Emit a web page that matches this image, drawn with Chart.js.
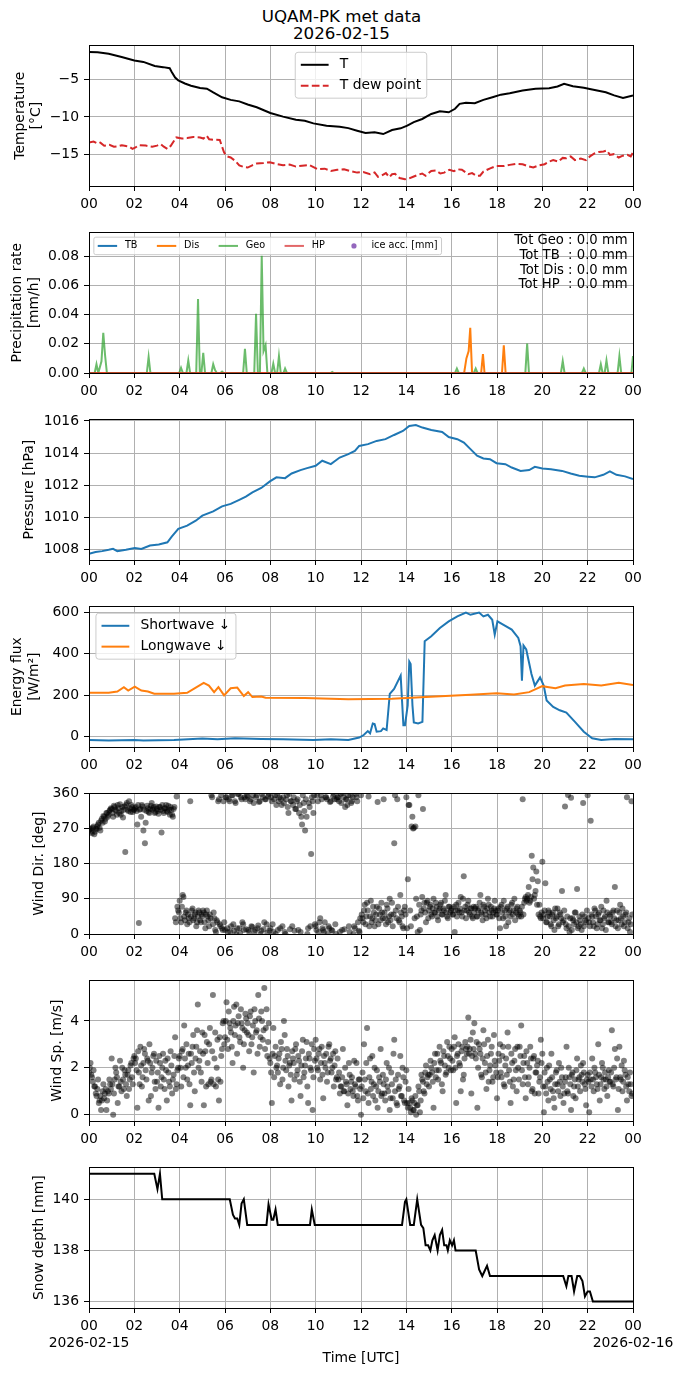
<!DOCTYPE html>
<html>
<head>
<meta charset="utf-8">
<script src="https://cdn.jsdelivr.net/npm/chart.js@4.4.1/dist/chart.umd.min.js"></script>
<style>
  body { margin: 0; background: #fff; width: 683px; height: 1377px; position: relative; overflow: hidden; }
  canvas { position: absolute; left: 0; }
  #title { position: absolute; left: 0; top: 8px; width: 683px; text-align: center;
           font: 16.7px "DejaVu Sans", sans-serif; line-height: 17px; color: #000; }
</style>
</head>
<body>
<div id="title">UQAM-PK met data<br>2026-02-15</div>
<canvas id="c0"></canvas>
<canvas id="c1"></canvas>
<canvas id="c2"></canvas>
<canvas id="c3"></canvas>
<canvas id="c4"></canvas>
<canvas id="c5"></canvas>
<canvas id="c6"></canvas>
<script>
// ---- data (hours UTC, value) ----
const hourTicks = [0, 2, 4, 6, 8, 10, 12, 14, 16, 18, 20, 22, 24];

const airTemp = [[0,-1.26],[0.38,-1.3],[0.87,-1.5],[1.44,-1.94],[2.0,-2.4],[2.4,-2.6],[2.9,-3.15],[3.27,-3.3],[3.56,-3.45],[3.65,-3.95],[3.8,-4.7],[3.94,-5.1],[4.23,-5.5],[4.5,-5.8],[4.9,-6.1],[5.2,-6.2],[5.48,-6.7],[5.87,-7.35],[6.25,-7.7],[6.63,-7.9],[7.0,-8.33],[7.4,-8.7],[8.0,-9.46],[8.56,-9.95],[9.13,-10.36],[9.52,-10.5],[9.9,-10.86],[10.48,-11.17],[11.06,-11.3],[11.44,-11.5],[11.83,-11.85],[12.2,-12.16],[12.6,-12.07],[12.98,-12.3],[13.37,-11.76],[13.75,-11.53],[14.04,-11.17],[14.33,-10.7],[14.7,-10.27],[15.1,-9.6],[15.48,-9.23],[15.87,-9.37],[16.15,-8.9],[16.35,-8.24],[16.63,-8.1],[17.02,-8.15],[17.4,-7.7],[17.8,-7.35],[18.17,-7.0],[18.56,-6.8],[19.13,-6.44],[19.7,-6.22],[20.3,-6.13],[20.67,-5.9],[20.96,-5.54],[21.35,-5.86],[21.83,-6.08],[22.2,-6.3],[22.8,-6.67],[23.17,-7.1],[23.56,-7.43],[24,-7.1]];

const dewPoint = [[0,-13.42],[0.2,-13.3],[0.38,-13.56],[0.5,-13.45],[0.67,-13.87],[0.9,-13.75],[1.1,-14.0],[1.25,-13.96],[1.45,-13.8],[1.63,-13.9],[1.8,-14.05],[1.92,-14.3],[2.05,-14.1],[2.21,-13.78],[2.5,-13.85],[2.79,-14.0],[3.0,-13.85],[3.17,-13.65],[3.3,-14.0],[3.46,-14.3],[3.6,-13.9],[3.85,-12.75],[4.1,-12.9],[4.33,-12.84],[4.6,-12.7],[4.9,-12.75],[5.05,-12.9],[5.19,-12.5],[5.3,-13.0],[5.48,-13.06],[5.77,-13.1],[5.96,-14.77],[6.1,-15.3],[6.25,-15.45],[6.45,-15.9],[6.63,-16.5],[6.85,-16.75],[7.0,-16.8],[7.2,-16.5],[7.4,-16.26],[7.7,-16.2],[7.98,-16.08],[8.3,-16.35],[8.56,-16.5],[8.85,-16.4],[9.13,-16.67],[9.4,-16.55],[9.71,-16.44],[10.1,-17.03],[10.4,-16.95],[10.67,-17.25],[10.95,-17.1],[11.25,-17.03],[11.55,-17.3],[11.83,-17.48],[12.1,-17.4],[12.4,-17.7],[12.6,-17.45],[12.75,-18.05],[12.88,-17.93],[13.1,-17.55],[13.25,-18.1],[13.37,-17.7],[13.5,-17.65],[13.7,-18.2],[13.94,-18.38],[14.1,-18.3],[14.33,-18.0],[14.5,-17.8],[14.7,-17.6],[14.85,-17.9],[15.1,-17.25],[15.3,-17.2],[15.5,-17.6],[15.67,-17.48],[15.9,-17.1],[16.1,-17.3],[16.25,-17.03],[16.45,-17.1],[16.73,-17.7],[16.9,-17.55],[17.1,-17.93],[17.25,-17.9],[17.4,-17.34],[17.7,-16.9],[17.98,-16.58],[18.3,-16.6],[18.56,-16.44],[18.85,-16.3],[19.13,-16.35],[19.35,-16.6],[19.6,-16.8],[19.85,-16.5],[20.1,-16.35],[20.3,-16.0],[20.48,-15.8],[20.7,-16.0],[20.9,-15.5],[21.06,-15.54],[21.25,-15.3],[21.44,-15.8],[21.7,-15.6],[21.92,-15.8],[22.1,-15.3],[22.3,-14.9],[22.5,-14.7],[22.7,-14.64],[22.85,-14.5],[22.98,-15.1],[23.15,-15.0],[23.37,-15.45],[23.55,-15.2],[23.75,-15.1],[23.9,-15.3],[24,-14.77]];

const precipTB = [[0,0],[24,0]];
const precipHP = [[0,0],[24,0]];
const precipDis = [[0,0],[16.55,0],[16.65,0.01],[16.75,0.015],[16.82,0.031],[16.9,0],[17.3,0],[17.38,0.013],[17.45,0],[18.22,0],[18.3,0.019],[18.38,0],[24,0]];
const precipGeo = [[0,0],[0.25,0],[0.33,0.006],[0.41,0],[0.55,0.008],[0.63,0.0275],[0.71,0.012],[0.79,0],[2.55,0],[2.63,0.011],[2.71,0],[3.98,0],[4.06,0.0036],[4.14,0],[4.3,0],[4.38,0.0086],[4.46,0],[4.73,0],[4.81,0.0507],[4.89,0],[4.96,0],[5.04,0.0139],[5.12,0],[5.4,0],[5.48,0.006],[5.56,0.002],[5.64,0],[5.8,0],[5.87,0.001],[5.94,0],[6.8,0],[6.88,0.0166],[6.96,0],[7.29,0],[7.37,0.0407],[7.45,0],[7.54,0],[7.62,0.0805],[7.7,0.015],[7.79,0.019],[7.87,0],[8.05,0],[8.13,0.0064],[8.21,0],[8.3,0],[8.38,0.0116],[8.46,0],[8.58,0],[8.65,0.003],[8.73,0],[10.66,0],[10.73,0.0007],[10.8,0],[16.15,0],[16.23,0.003],[16.31,0],[16.98,0],[17.06,0.003],[17.14,0],[19.25,0],[19.33,0.0202],[19.41,0],[20.82,0],[20.9,0.0082],[20.98,0],[21.75,0],[21.83,0.003],[21.91,0],[22.5,0],[22.58,0.006],[22.66,0],[22.75,0],[22.83,0.0086],[22.91,0],[23.32,0],[23.4,0.0116],[23.48,0],[23.93,0],[24,0.0116]];
const iceAcc = [];
const precipTotals = ['Tot Geo : 0.0 mm', 'Tot TB  : 0.0 mm', 'Tot Dis : 0.0 mm', 'Tot HP  : 0.0 mm'];

const pressure = [[0,1007.75],[0.29,1007.86],[0.58,1007.92],[0.87,1008.0],[1.06,1008.06],[1.25,1007.92],[1.63,1008.0],[2.02,1008.12],[2.31,1008.06],[2.69,1008.27],[3.08,1008.33],[3.46,1008.47],[3.65,1008.82],[3.94,1009.3],[4.33,1009.5],[4.71,1009.81],[5.0,1010.12],[5.48,1010.39],[5.87,1010.7],[6.25,1010.85],[6.63,1011.1],[6.92,1011.3],[7.21,1011.57],[7.6,1011.84],[7.98,1012.25],[8.27,1012.5],[8.65,1012.45],[8.94,1012.74],[9.33,1012.95],[9.62,1013.07],[10.0,1013.22],[10.29,1013.53],[10.67,1013.32],[11.06,1013.73],[11.44,1013.94],[11.73,1014.14],[11.92,1014.45],[12.31,1014.56],[12.69,1014.76],[13.08,1014.87],[13.46,1015.13],[13.85,1015.38],[14.13,1015.69],[14.42,1015.75],[14.71,1015.59],[15.1,1015.44],[15.58,1015.32],[15.87,1015.0],[16.25,1014.87],[16.54,1014.66],[16.83,1014.25],[17.12,1013.84],[17.4,1013.67],[17.69,1013.63],[17.98,1013.38],[18.37,1013.32],[18.65,1013.11],[19.04,1012.9],[19.42,1012.95],[19.67,1013.15],[20.0,1013.05],[20.38,1013.0],[20.87,1012.9],[21.25,1012.74],[21.63,1012.6],[22.02,1012.54],[22.31,1012.5],[22.69,1012.66],[22.98,1012.87],[23.27,1012.66],[23.65,1012.56],[24,1012.39]];

const shortwave = [[0,-17.5],[0.87,-20.7],[2.0,-17.5],[2.4,-20.7],[3.75,-17.5],[5.0,-11],[5.67,-14],[6.44,-9.6],[7.6,-12.8],[8.56,-14],[9.9,-17.5],[10.67,-14],[11.44,-17.5],[11.92,-6],[12.12,6],[12.3,25],[12.4,14],[12.52,62],[12.6,59],[12.69,22],[12.88,25],[12.98,38],[13.13,30],[13.27,206],[13.46,230],[13.75,294],[13.87,54],[13.94,54],[14.06,150],[14.13,362],[14.19,350],[14.27,150],[14.33,67],[14.52,62],[14.71,70],[14.81,461],[15.1,485],[15.48,525],[15.87,557],[16.25,581],[16.63,600],[16.83,589],[17.21,600],[17.4,581],[17.6,589],[17.79,565],[17.9,493],[18.02,557],[18.27,541],[18.65,517],[18.94,477],[19.04,437],[19.1,270],[19.17,440],[19.29,421],[19.52,302],[19.67,246],[19.81,270],[19.9,286],[20.06,246],[20.19,174],[20.48,142],[20.77,126],[21.06,115],[21.44,70],[21.83,22],[22.2,-9.6],[22.6,-17.5],[23.17,-12.8],[24,-14]];

const longwave = [[0,211],[0.87,211],[1.25,217],[1.54,238],[1.73,222],[2.02,241],[2.31,222],[2.6,217],[2.88,206],[3.75,206],[4.33,211],[4.62,230],[5.06,259],[5.29,246],[5.52,214],[5.71,238],[5.96,198],[6.25,233],[6.54,236],[6.83,195],[7.02,214],[7.21,190],[7.6,193],[7.79,187],[9.52,185],[11.44,180],[13.37,182],[15.29,193],[16.83,201],[17.98,209],[18.75,203],[19.42,214],[20.0,243],[20.29,238],[20.58,233],[21.0,246],[21.83,254],[22.6,246],[23.37,260],[24,249]];

// wind samples every 4 minutes, one row per hour; the B rows sit 2 minutes later
const windStepMin = 4;
const windDir = [
  265,270,258,275,262,268,280,272,290,285,300,295,310,305,318,
  320,300,325,315,330,310,305,325,318,210,335,315,322,330,312,
  318,325,280,28,320,330,265,232,315,322,310,328,318,325,312,
  320,308,325,260,315,322,330,312,318,325,305,320,40,352,60,
  85,30,100,45,55,25,40,340,60,35,50,20,45,55,30,
  45,55,15,60,35,50,355,25,40,5,30,345,20,15,340,
  10,350,5,340,20,355,8,335,15,358,2,345,25,350,12,
  352,5,345,18,335,10,355,22,340,8,350,30,345,3,358,
  15,340,5,355,330,10,350,345,20,335,0,355,310,12,340,
  330,8,320,345,310,5,280,335,265,300,15,325,205,340,355,
  20,355,5,40,345,10,30,350,0,15,340,8,358,25,345,
  350,5,335,360,12,345,330,20,355,340,0,15,350,30,5,
  355,40,60,25,80,352,45,30,70,20,50,338,65,35,55,
  345,40,75,30,90,50,20,232,60,345,35,100,45,15,70,
  350,140,330,20,300,272,275,45,355,10,60,320,80,30,85,
  60,75,45,90,55,70,35,65,80,50,60,100,45,70,55,
  65,50,5,75,60,55,95,45,148,70,60,85,50,65,40,
  55,70,45,65,100,50,75,60,40,90,55,70,45,65,60,
  50,65,15,75,40,60,20,70,55,45,80,60,35,65,50,
  60,45,345,80,95,90,120,85,200,170,100,160,135,75,40,
  185,50,130,30,60,45,20,55,10,40,65,25,50,110,35,
  326,15,356,5,349,40,25,55,115,20,35,10,335,45,30,
  355,30,290,45,20,60,15,50,35,70,25,40,10,55,30,
  45,25,60,120,35,15,55,40,65,20,50,350,30,5,340
];
const windDirB = [
  268,262,272,255,270,276,285,265,295,302,288,310,300,315,322,
  310,328,318,305,322,332,315,298,326,330,318,340,312,325,318,
  322,315,330,318,300,326,318,285,328,312,320,335,322,310,326,
  315,325,318,330,310,322,315,328,305,318,300,325,30,70,55,
  40,70,95,35,60,50,30,45,65,40,55,30,60,35,50,
  60,30,50,45,20,40,350,55,10,35,340,25,355,10,30,
  350,15,345,5,355,25,340,0,358,15,350,30,10,345,355,
  10,340,20,355,5,350,15,338,0,358,12,345,25,352,8,
  350,25,345,0,355,340,15,330,350,5,345,325,358,340,20,
  350,320,340,10,330,300,355,315,345,0,335,20,350,310,25,
  10,340,30,355,15,5,350,345,20,338,10,352,345,0,350,
  340,358,10,350,325,345,355,5,335,350,20,358,340,8,40,
  50,30,75,45,60,20,85,40,55,35,70,25,50,80,40,
  55,25,65,45,35,80,50,355,40,70,30,55,20,60,50,
  15,330,60,275,270,40,90,5,75,50,95,65,55,80,40,
  70,50,65,55,80,45,60,75,50,65,85,55,40,70,60,
  50,70,60,45,80,65,55,90,60,40,75,55,65,45,70,
  65,45,60,80,55,35,70,50,65,75,45,60,55,85,50,
  60,40,70,55,85,45,65,30,60,75,50,90,55,70,45,
  55,70,50,90,85,100,80,95,140,90,110,75,50,45,55,
  40,60,30,45,55,25,50,35,65,45,20,55,40,30,60,
  25,45,20,40,10,35,55,30,15,45,25,50,20,35,60,
  40,20,50,30,65,45,25,55,35,15,60,45,85,30,50,
  30,55,40,20,60,35,75,25,45,30,55,15,40,25,50
];
const windSpeed = [
  1.8,2.2,1.6,1.9,1.2,0.8,1.5,0.6,0.2,1.0,0.7,1.1,0.6,0.9,1.3,
  2.4,0.0,1.5,1.8,0.5,1.2,1.4,2.0,1.1,1.7,0.8,1.9,1.5,2.2,1.3,
  2.5,2.4,0.3,1.8,2.9,1.2,2.2,2.6,1.5,2.3,3.0,0.8,2.0,2.6,1.1,
  1.4,0.3,2.2,1.6,2.6,1.1,1.9,2.4,1.4,2.7,0.9,1.7,3.3,1.3,2.0,
  2.5,1.2,2.8,3.8,2.0,1.5,2.6,0.4,2.2,3.4,1.0,2.9,4.7,2.3,1.8,
  3.5,0.4,2.7,3.1,1.3,3.7,1.5,5.1,2.4,1.2,3.2,0.6,1.4,2.8,4.0,
  3.3,4.8,2.8,3.9,3.5,2.2,4.6,3.8,2.6,4.2,3.1,3.9,2.0,3.6,4.1,
  3.9,2.7,4.4,3.3,1.8,4.0,3.6,5.1,2.9,4.4,3.2,5.4,3.7,2.5,3.9,
  2.2,0.5,3.7,2.5,2.0,1.8,2.6,3.1,1.5,4.0,2.3,2.8,1.2,2.2,0.6,
  2.4,1.5,3.0,1.9,2.3,0.8,2.7,1.6,2.1,3.1,0.5,2.4,1.9,0.2,2.8,
  3.2,2.0,2.6,1.5,2.9,0.7,2.2,2.6,1.8,3.0,2.4,2.0,1.2,2.7,1.6,
  1.5,0.9,1.2,2.8,1.0,1.4,0.4,2.2,1.1,1.6,0.8,1.3,2.2,0.6,1.5,
  0.0,1.8,3.0,1.0,3.7,0.5,2.4,1.4,0.8,2.0,1.2,0.3,1.6,2.8,0.9,
  1.3,0.6,2.2,1.0,0.2,1.8,0.7,3.2,1.5,0.4,1.1,2.5,0.8,1.6,0.5,
  1.9,0.3,0.5,0.1,0.6,0.2,0.8,0.4,1.2,0.1,1.7,1.4,0.9,2.1,1.6,
  1.2,2.3,1.8,0.3,2.6,1.9,1.5,2.9,2.2,1.0,2.5,1.7,3.1,2.0,2.4,
  2.8,1.9,3.3,0.5,2.6,2.2,1.0,2.9,1.7,3.1,2.6,4.15,2.8,0.9,3.5,
  3.9,2.4,0.3,3.0,2.6,1.6,3.6,2.2,1.1,3.2,1.9,2.6,1.4,3.4,2.1,
  0.7,2.6,3.0,1.6,2.9,1.2,2.4,3.5,1.9,0.5,2.2,1.5,2.8,1.0,2.0,
  2.9,3.8,1.3,2.5,0.7,2.2,1.6,2.9,1.0,2.4,0.9,1.8,2.3,1.4,3.2,
  2.6,0.1,1.2,2.0,0.6,1.5,2.6,1.0,0.3,1.8,1.3,2.2,0.8,1.6,0.5,
  1.4,2.9,0.9,1.6,0.2,1.8,1.2,0.7,2.4,1.5,1.0,1.7,2.2,1.3,0.4,
  1.7,0.1,1.5,2.4,1.0,1.8,1.3,3.0,0.6,1.6,2.0,1.1,1.5,0.8,1.9,
  1.4,3.6,1.2,2.8,1.6,0.2,2.9,1.5,1.0,2.3,1.7,0.6,1.3,1.8,0.8
];
const windSpeedB = [
  2.0,1.7,1.4,1.2,0.9,1.1,0.5,0.8,0.6,1.3,0.9,0.2,1.0,1.5,1.1,
  1.3,0.9,2.0,1.6,1.2,2.3,1.0,1.5,1.9,1.3,1.7,1.1,2.1,1.6,2.4,
  2.2,1.9,2.7,1.3,2.1,1.6,2.8,1.9,2.4,0.6,2.2,1.8,2.5,1.4,2.3,
  1.8,2.5,1.2,2.0,1.5,2.3,0.6,1.8,1.2,2.1,1.5,2.5,1.1,1.9,2.4,
  2.0,2.7,1.6,2.4,3.0,2.1,1.3,2.6,2.9,1.8,2.4,3.6,2.0,2.7,1.4,
  2.6,3.4,1.2,2.2,3.0,1.4,2.7,1.3,3.5,2.0,1.5,3.3,2.5,3.9,3.0,
  4.0,3.2,4.4,3.7,2.9,4.0,3.4,4.7,3.9,3.3,4.5,3.7,3.0,4.3,3.5,
  3.4,4.2,3.0,3.8,4.5,3.5,2.6,4.1,3.3,4.0,3.6,2.8,4.5,3.1,2.4,
  1.8,2.6,1.6,2.9,2.1,2.4,1.3,2.8,2.0,3.4,1.9,2.5,2.1,1.7,2.7,
  2.2,2.8,1.7,2.5,1.4,2.1,3.2,1.8,2.4,1.2,2.6,2.0,3.0,1.6,2.3,
  2.4,1.9,2.8,2.2,1.7,2.5,2.0,1.4,2.9,2.3,1.8,2.6,2.1,1.5,2.4,
  1.8,1.2,1.6,1.0,2.0,1.3,0.9,1.7,1.4,1.0,2.3,1.2,0.8,1.5,1.1,
  1.2,0.7,1.5,2.2,0.9,1.6,1.1,2.5,1.3,0.6,1.9,1.0,1.4,0.8,1.7,
  0.9,1.5,1.2,2.0,0.7,1.3,2.6,1.0,0.5,1.7,1.2,0.8,2.0,0.6,1.4,
  0.5,1.1,0.3,0.7,0.2,0.5,0.0,0.4,1.0,0.6,1.5,1.0,1.8,1.3,1.7,
  1.7,2.0,1.4,2.2,1.6,2.6,1.9,2.3,1.3,2.7,2.1,1.8,2.5,2.9,1.9,
  2.3,2.9,2.0,2.5,3.0,2.1,2.7,1.5,2.4,2.8,2.9,2.6,3.2,2.5,2.8,
  2.6,3.1,2.0,2.8,1.7,2.4,3.0,1.8,2.5,1.4,2.1,2.9,1.6,2.3,1.8,
  1.6,2.3,1.8,2.5,1.3,2.1,1.7,2.9,1.4,2.6,1.2,2.3,1.9,2.9,1.5,
  2.5,1.9,2.2,1.6,2.7,1.3,2.0,2.4,1.1,2.5,1.8,2.1,0.9,1.6,2.2,
  1.2,1.8,0.9,1.4,2.1,1.1,1.6,0.7,1.3,1.9,1.0,1.4,2.0,1.2,0.9,
  1.6,1.0,2.0,1.3,1.7,0.8,1.5,1.9,1.2,1.6,2.1,1.4,1.8,1.1,1.5,
  1.4,1.8,1.2,1.5,2.0,1.6,1.1,1.7,1.3,2.2,1.5,1.8,1.2,1.6,1.4,
  1.8,1.3,2.0,1.5,2.4,1.1,1.6,2.1,1.4,1.9,1.2,1.6,1.0,1.3,0.9
];

const snowDepth = [[0,141],[2.88,141],[3.02,140.4],[3.13,141],[3.23,140],[6.21,140],[6.35,139.4],[6.44,139.25],[6.54,139.25],[6.63,139],[6.73,139.83],[6.83,140],[6.98,139],[7.83,139],[7.92,139.8],[8.06,139.2],[8.13,139.2],[8.23,139.6],[8.33,139],[9.75,139],[9.83,139.6],[9.96,139],[13.81,139],[13.94,139.9],[14.0,140],[14.17,139],[14.33,139],[14.48,140],[14.65,139],[14.75,138.87],[14.85,138.2],[14.96,138.2],[15.06,138],[15.15,138.4],[15.25,138.6],[15.38,138],[15.48,138.6],[15.58,138.8],[15.67,138.2],[15.77,138.2],[15.83,138],[15.92,138.4],[16.02,138.2],[16.1,138.4],[16.17,138],[17.06,138],[17.21,137.26],[17.35,137],[17.56,137.4],[17.69,137],[20.92,137],[21.06,136.6],[21.15,137],[21.29,137],[21.4,136.4],[21.54,137],[21.65,137],[21.77,136.8],[21.88,136.2],[22.0,136.4],[22.1,136.4],[22.23,136],[24,136]];

const tempTicks = [-15, -10, -5];
const precipTicks = [0, 0.02, 0.04, 0.06, 0.08];
const pressTicks = [1008, 1010, 1012, 1014, 1016];
const fluxTicks = [0, 200, 400, 600];
const dirTicks = [0, 90, 180, 270, 360];
const speedTicks = [0, 2, 4];
const snowTicks = [136, 138, 140];

// ---- helpers ----
Chart.defaults.font.family = '"DejaVu Sans", sans-serif';
Chart.defaults.font.size = 13.9;
Chart.defaults.color = '#000';

const pts = arr => arr.map(p => ({ x: p[0], y: p[1] }));
const windPts = (vals, offMin) => vals.map((v, i) => ({ x: (i * windStepMin + offMin) / 60, y: v }));
const hh = v => String(v % 24).padStart(2, '0');
const minus = v => (v < 0 ? '\u2212' : '') + Math.abs(v);

// black box round the axes, drawn over the data like matplotlib spines
const frame = {
  id: 'frame',
  afterDatasetsDraw(chart) {
    const { ctx, chartArea: a } = chart;
    ctx.save();
    ctx.strokeStyle = '#000';
    ctx.lineWidth = 1;
    ctx.strokeRect(Math.round(a.left) + 0.5, Math.round(a.top) + 0.5,
                   Math.round(a.right - a.left), Math.round(a.bottom - a.top));
    ctx.restore();
  }
};

// legend drawn inside the axes, sized like a matplotlib legend
const boxLegend = {
  id: 'boxLegend',
  afterDatasetsDraw(chart, args, opt) {
    if (!opt.loc) return;
    const ctx = chart.ctx, a = chart.chartArea, f = opt.size;
    const items = chart.data.datasets.filter(d => d.label);
    ctx.save();
    ctx.font = f + 'px "DejaVu Sans"';
    const pad = 0.4 * f, hl = 2 * f, gap = 0.8 * f, colGap = 2 * f, rowGap = 0.5 * f, th = f;
    const tw = items.map(d => ctx.measureText(d.label).width);
    const horiz = opt.ncol > 1;
    const w = horiz ? 2 * pad + tw.reduce((s, t) => s + hl + gap + t, 0) + (items.length - 1) * colGap
                    : 2 * pad + hl + gap + Math.max(...tw);
    const h = horiz ? 2 * pad + th : 2 * pad + items.length * th + (items.length - 1) * rowGap;
    const x0 = opt.loc === 'upper center' ? (a.left + a.right - w) / 2 : a.left + 0.5 * f;
    const y0 = a.top + 0.5 * f;
    ctx.beginPath();
    if (ctx.roundRect) ctx.roundRect(x0, y0, w, h, 0.2 * f); else ctx.rect(x0, y0, w, h);
    ctx.fillStyle = 'rgba(255,255,255,0.8)';
    ctx.fill();
    ctx.strokeStyle = '#cccccc';
    ctx.lineWidth = 1;
    ctx.stroke();
    let cx = x0 + pad, cy = y0 + pad + th / 2;
    items.forEach((d, i) => {
      if (d.showLine === false) {
        ctx.beginPath();
        ctx.arc(cx + hl / 2, cy, 2.6, 0, 2 * Math.PI);
        ctx.fillStyle = d.backgroundColor;
        ctx.fill();
      } else {
        ctx.beginPath();
        ctx.setLineDash(d.borderDash || []);
        ctx.moveTo(cx, cy);
        ctx.lineTo(cx + hl, cy);
        ctx.strokeStyle = d.borderColor;
        ctx.lineWidth = d.borderWidth;
        ctx.stroke();
        ctx.setLineDash([]);
      }
      ctx.fillStyle = '#000';
      ctx.textAlign = 'left';
      ctx.textBaseline = 'middle';
      ctx.fillText(d.label, cx + hl + gap, cy);
      if (horiz) cx += hl + gap + tw[i] + colGap; else cy += th + rowGap;
    });
    ctx.restore();
  }
};

// text block in the top right corner of the axes
const cornerText = {
  id: 'cornerText',
  afterDatasetsDraw(chart, args, opt) {
    if (!opt.show) return;
    const ctx = chart.ctx, a = chart.chartArea;
    ctx.save();
    ctx.font = '13.2px "DejaVu Sans"';
    ctx.fillStyle = '#000';
    ctx.textAlign = 'right';
    ctx.textBaseline = 'middle';
    precipTotals.forEach((t, i) => ctx.fillText(t, a.right - 5.4, a.top + 8.3 + i * 14.8));
    ctx.restore();
  }
};

function xScale(axisH, last) {
  return {
    type: 'linear', min: 0, max: 24,
    afterBuildTicks: s => { s.ticks = hourTicks.map(v => ({ value: v })); },
    afterFit: s => { s.height = axisH; },
    ticks: {
      autoSkip: false, maxRotation: 0, minRotation: 0, padding: 5,
      callback: v => {
        if (last && v === 0) return ['00', '2026-02-15'];
        if (last && v === 24) return ['00', '2026-02-16'];
        return hh(v);
      }
    },
    grid: { color: '#b0b0b0', lineWidth: 1, tickColor: '#000', tickLength: 5 },
    border: { display: false },
    title: last ? { display: true, text: 'Time [UTC]', padding: { top: 0, bottom: 10.6 } } : { display: false }
  };
}

function yScale(min, max, ticks, fmt, title, titlePad) {
  return {
    type: 'linear', min, max,
    afterBuildTicks: s => { s.ticks = ticks.map(v => ({ value: v })); },
    afterFit: s => { s.width = 89; },
    ticks: { callback: fmt, padding: 5 },
    grid: { color: '#b0b0b0', lineWidth: 1, tickColor: '#000', tickLength: 5 },
    border: { display: false },
    title: { display: true, text: title, padding: { top: titlePad, bottom: 0 } }
  };
}

function line(label, data, color, extra) {
  return Object.assign({ label, data: pts(data), borderColor: color, backgroundColor: color,
    borderWidth: 2, showLine: true, pointRadius: 0, tension: 0, clip: 0 }, extra || {});
}

function dots(data) {
  return { data, showLine: false, pointRadius: 3, borderWidth: 0,
    backgroundColor: 'rgba(0,0,0,0.5)', borderColor: 'rgba(0,0,0,0.5)', clip: 0 };
}

const axesTop = [44, 231, 418, 605, 792, 979, 1166];
const axesH = 142;

function panel(i, datasets, y, plugOpts, axisH, last) {
  const cv = document.getElementById('c' + i);
  cv.width = 683;
  cv.height = 12 + axesH + axisH;
  cv.style.top = (axesTop[i] - 12) + 'px';
  // later series on top, as in matplotlib
  datasets.forEach((d, k) => { d.order = datasets.length - k; });
  new Chart(cv, {
    type: 'scatter',
    data: { datasets },
    options: {
      responsive: false, animation: false, devicePixelRatio: 1,
      layout: { padding: { top: 12, right: 50, left: 0, bottom: 0 } },
      plugins: Object.assign({ legend: { display: false }, tooltip: { enabled: false } }, plugOpts),
      scales: { x: xScale(axisH, last), y }
    },
    plugins: [frame, boxLegend, cornerText]
  });
}

panel(0, [
  line('T', airTemp, '#000000'),
  line('T dew point', dewPoint, '#d62728', { borderDash: [7.7, 3.3] })
], yScale(-19.28, -0.37, tempTicks, minus, ['Temperature', '[°C]'], 11.7),
  { boxLegend: { loc: 'upper center', size: 13.9 } }, 32, false);

panel(1, [
  line('TB', precipTB, '#1f77b4'),
  line('Dis', precipDis, '#ff7f0e'),
  line('Geo', precipGeo, 'rgba(44,160,44,0.7)'),
  line('HP', precipHP, 'rgba(214,39,40,0.7)'),
  { label: 'ice acc. [mm]', data: pts(iceAcc), showLine: false, pointRadius: 3,
    backgroundColor: '#9467bd', borderColor: '#9467bd' }
], yScale(0, 0.0965, precipTicks, v => v.toFixed(2), ['Precipitation rate', '[mm/h]'], 9.2),
  { boxLegend: { loc: 'upper left', size: 9.7, ncol: 5 }, cornerText: { show: true } }, 32, false);

panel(2, [
  line('', pressure, '#1f77b4')
], yScale(1007.37, 1016.1, pressTicks, v => String(v), 'Pressure [hPa]', 21.3), {}, 32, false);

panel(3, [
  line('Shortwave \u2193', shortwave, '#1f77b4'),
  line('Longwave \u2193', longwave, '#ff7f0e')
], yScale(-52, 630, fluxTicks, v => String(v), ['Energy flux', '[W/m\u00b2]'], 9.2),
  { boxLegend: { loc: 'upper left', size: 13.9 } }, 32, false);

panel(4, [dots(windPts(windDir, 0)), dots(windPts(windDirB, 2))],
  yScale(0, 360, dirTicks, v => String(v), 'Wind Dir. [deg]', 30.7), {}, 32, false);

panel(5, [dots(windPts(windSpeed, 0)), dots(windPts(windSpeedB, 2))],
  yScale(-0.27, 5.73, speedTicks, v => String(v), 'Wind Sp. [m/s]', 48.7), {}, 32, false);

panel(6, [line('', snowDepth, '#000000')],
  yScale(135.75, 141.25, snowTicks, v => String(v), 'Snow depth [mm]', 30.7), {}, 69, true);
</script>
</body>
</html>
